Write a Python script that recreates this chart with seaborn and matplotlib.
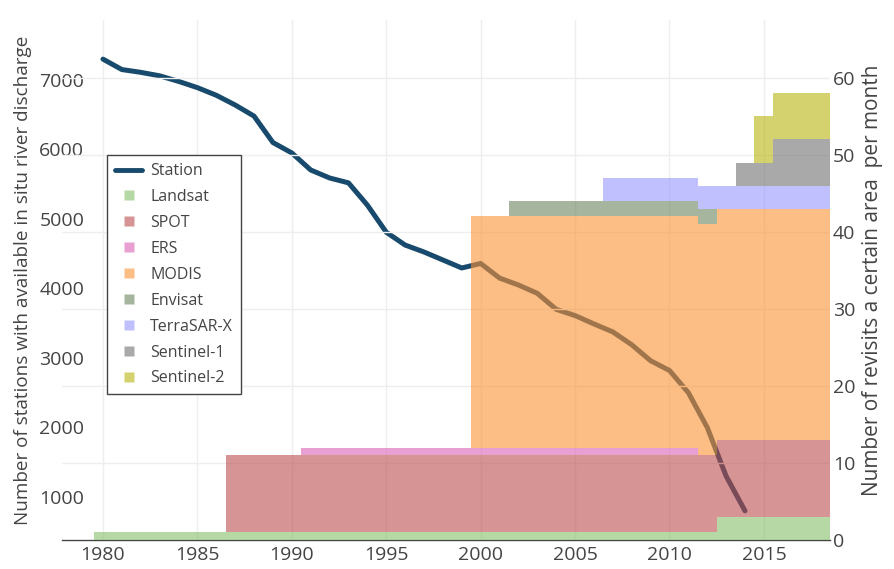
import matplotlib
matplotlib.use('Agg')
import matplotlib.pyplot as plt
import matplotlib.colors as mcolors
from matplotlib.lines import Line2D
import numpy as np
import pandas as pd
import seaborn as sns

# stations with in situ discharge (left axis)
station_years = list(range(1980, 2015))
stations = [7300, 7150, 7110, 7060, 6980, 6890, 6780, 6640, 6480, 6100,
            5950, 5705, 5590, 5520, 5200, 4810, 4625, 4525, 4410, 4295,
            4360, 4150, 4050, 3930, 3700, 3610, 3490, 3375, 3190, 2960,
            2820, 2500, 2000, 1300, 800]

# revisits per month (right axis), one value per year, bins centred on the year
sat_years = list(range(1980, 2019))
landsat   = [1] * 33 + [3] * 6
spot      = [0] * 7 + [10] * 32
ers       = [0] * 11 + [1] * 21 + [0] * 7
modis     = [0] * 20 + [30] * 19
envisat   = [0] * 22 + [2] * 11 + [0] * 6
terrasar  = [0] * 27 + [3] * 12
sentinel1 = [0] * 34 + [3] * 2 + [6] * 3
sentinel2 = [0] * 35 + [6] * 4

sat_names  = ['Landsat', 'SPOT', 'ERS', 'MODIS', 'Envisat', 'TerraSAR-X',
              'Sentinel-1', 'Sentinel-2']
sat_values = [landsat, spot, ers, modis, envisat, terrasar, sentinel1, sentinel2]
sat_colors = ['#85be69', '#bb4d4d', '#da61b7', '#fc9335', '#69855d', '#9696ff',
              '#717171', '#b7b40d']
FILL_ALPHA = 0.6
LINE_COLOR = '#184a6d'
TEXT_COLOR = '#444444'

sns.set_theme(style='white')
plt.rcParams['font.family'] = ['Open Sans', 'DejaVu Sans']

fig = plt.figure(figsize=(8.94, 5.69), dpi=100)
ax = fig.add_axes([62 / 894, 29 / 569, 768 / 894, 520 / 569])

df = pd.DataFrame({'year': station_years, 'stations': stations})
sns.lineplot(data=df, x='year', y='stations', ax=ax, color=LINE_COLOR, lw=3.6,
             legend=False)
ax.set_xlim(1977.83, 2018.5)
ax.set_ylim(381, 7863)
ax.set_yticks(range(1000, 8000, 1000))
ax.set_xticks(range(1980, 2016, 5))
ax.grid(axis='x', color='#eeeeee', lw=1)
ax.grid(axis='y', visible=False)
ax.set_xlabel('')
ax.set_ylabel('Number of stations with available in situ river discharge',
              fontsize=13.6, color=TEXT_COLOR)
ax.yaxis.set_label_coords(-0.039, 0.5)
ax.tick_params(axis='y', labelsize=14, labelcolor=TEXT_COLOR, pad=-16, length=0)
ax.tick_params(axis='x', labelsize=14, labelcolor=TEXT_COLOR, pad=4, length=0)
for s in ['top', 'right', 'left']:
    ax.spines[s].set_visible(False)
ax.spines['bottom'].set_color(TEXT_COLOR)
ax.spines['bottom'].set_linewidth(1)

# stacked step areas on the right axis, drawn over the station line
ax2 = ax.twinx()
edges = np.array(sat_years + [sat_years[-1] + 1]) - 0.5
base = np.zeros(len(sat_years))
for name, vals, col in zip(sat_names, sat_values, sat_colors):
    vals = np.array(vals, dtype=float)
    top = base + vals
    ax2.fill_between(edges, np.append(base, base[-1]), np.append(top, top[-1]),
                     step='post', color=col, alpha=FILL_ALPHA, lw=0)
    base = top
ax2.set_ylim(0, 67.5)
ax2.set_yticks(range(0, 61, 10))
ax2.set_axisbelow(True)
ax2.grid(axis='y', color='#eeeeee', lw=1)
ax2.set_ylabel('Number of revisits a certain area  per month', fontsize=15,
               color=TEXT_COLOR, rotation=90)
ax2.yaxis.set_label_coords(1.042, 0.5)
ax2.tick_params(axis='y', labelsize=14, labelcolor=TEXT_COLOR, pad=2, length=0)
for s in ['top', 'right', 'left', 'bottom']:
    ax2.spines[s].set_visible(False)

handles = [Line2D([], [], color=LINE_COLOR, lw=3.5)]
for col in sat_colors:
    handles.append(Line2D([], [], ls='none', marker='s', ms=7, mec='none',
                          mfc=mcolors.to_rgba(col, FILL_ALPHA)))
leg = ax2.legend(handles, ['Station'] + sat_names, loc='upper left',
                 bbox_to_anchor=(0.0586, 0.740), borderaxespad=0,
                 fontsize=11.5, fancybox=False, framealpha=1, edgecolor=TEXT_COLOR,
                 handlelength=1.7, labelspacing=0.62, borderpad=0.5,
                 handletextpad=0.5)
leg.get_frame().set_linewidth(1)
for t in leg.get_texts():
    t.set_color(TEXT_COLOR)

fig.savefig('out.png', dpi=100)
